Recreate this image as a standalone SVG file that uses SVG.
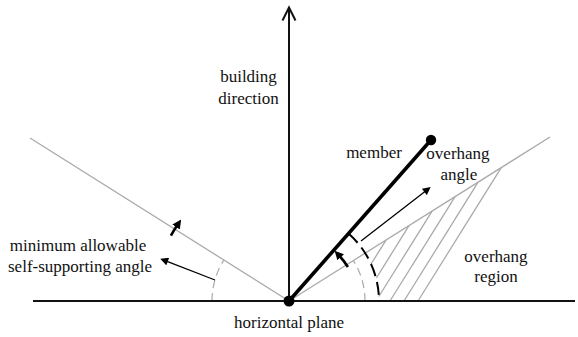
<svg xmlns="http://www.w3.org/2000/svg" width="578" height="337" viewBox="0 0 578 337">
<style>
.lbl{font-size:17px;fill:#111;text-anchor:middle}
.gray{stroke:#aaa;stroke-width:1.3;fill:none}
.gdash{stroke:#aaa;stroke-width:1.2;fill:none;stroke-dasharray:8 5}
.hatch{stroke:#aaa;stroke-width:1.3}
.thin{stroke:#000;stroke-width:1.3;fill:none}
.thick{stroke:#000;stroke-width:2.6;fill:none}
</style>
<defs>
<marker id="ah" viewBox="0 0 10 10" refX="1" refY="5" markerUnits="userSpaceOnUse" markerWidth="10" markerHeight="8" orient="auto">
<path d="M0,0 L10,5 L0,10 z" fill="#000"/>
</marker>
<marker id="ahb" viewBox="0 0 10 10" refX="2" refY="5" markerUnits="userSpaceOnUse" markerWidth="9" markerHeight="9" orient="auto">
<path d="M0,0 L10,5 L0,10 z" fill="#000"/>
</marker>
</defs>
<rect width="578" height="337" fill="#fff"/>

<g id="hatching">
<line class="hatch" x1="371.1" y1="264" x2="386" y2="240.1"/>
<line class="hatch" x1="376.4" y1="278" x2="409" y2="225.6"/>
<line class="hatch" x1="378.8" y1="296.5" x2="432.1" y2="211.2"/>
<line class="hatch" x1="390" y1="301" x2="455.1" y2="196.7"/>
<line class="hatch" x1="404" y1="301" x2="478.1" y2="182.2"/>
<line class="hatch" x1="418" y1="301" x2="501.1" y2="167.8"/>
</g>

<g id="connectors">
<line id="left-limit" class="gray" x1="30" y1="138" x2="289" y2="301"/>
<line id="right-limit" class="gray" x1="289" y1="301" x2="550" y2="137"/>
<path id="left-angle-arc" class="gdash" d="M212,301 A77,77 0 0 1 223.8,260.1"/>
<path id="right-angle-arc" class="gdash" d="M365,301 A76,76 0 0 0 353.4,260.6"/>
<path id="overhang-angle-arc" d="M348.5,233.5 A90,90 0 0 1 379,301" stroke="#000" stroke-width="2" fill="none" stroke-dasharray="13 6"/>
<line id="horizontal" x1="33" y1="301" x2="575" y2="301" stroke="#111" stroke-width="2.2"/>
<line id="building-axis" x1="289" y1="301" x2="289" y2="8" stroke="#111" stroke-width="2"/>
<polyline points="282.5,20.5 289,7.5 295.5,20.5" fill="none" stroke="#111" stroke-width="2"/>
<path id="left-rotate" class="thick" d="M170.9,235.6 A135,135 0 0 1 177.1,225.5" marker-end="url(#ahb)"/>
<path id="right-rotate" class="thick" d="M347.9,267 A68,68 0 0 0 339.5,256" marker-end="url(#ahb)"/>
<line id="left-pointer" class="thin" x1="215" y1="280" x2="167" y2="261.3" marker-end="url(#ah)"/>
<line id="right-pointer" class="thin" x1="361" y1="241" x2="425" y2="191.5" marker-end="url(#ah)"/>
</g>

<g id="member">
<line x1="289" y1="301" x2="431" y2="140" stroke="#000" stroke-width="3.6"/>
<circle cx="431" cy="140" r="5.2" fill="#000"/>
</g>
<g id="origin">
<circle cx="289" cy="301" r="5.5" fill="#000"/>
</g>

<g id="labels" font-family="'Liberation Serif', 'DejaVu Serif', serif">
<text class="lbl" x="248.5" y="82">building</text>
<text class="lbl" x="248.5" y="104">direction</text>
<text class="lbl" x="374" y="158">member</text>
<text class="lbl" x="458" y="159">overhang</text>
<text class="lbl" x="459" y="180">angle</text>
<text class="lbl" x="496" y="262">overhang</text>
<text class="lbl" x="496" y="282">region</text>
<text class="lbl" x="78" y="251">minimum allowable</text>
<text class="lbl" x="80" y="272">self-supporting angle</text>
<text class="lbl" x="289" y="328">horizontal plane</text>
</g>
</svg>
